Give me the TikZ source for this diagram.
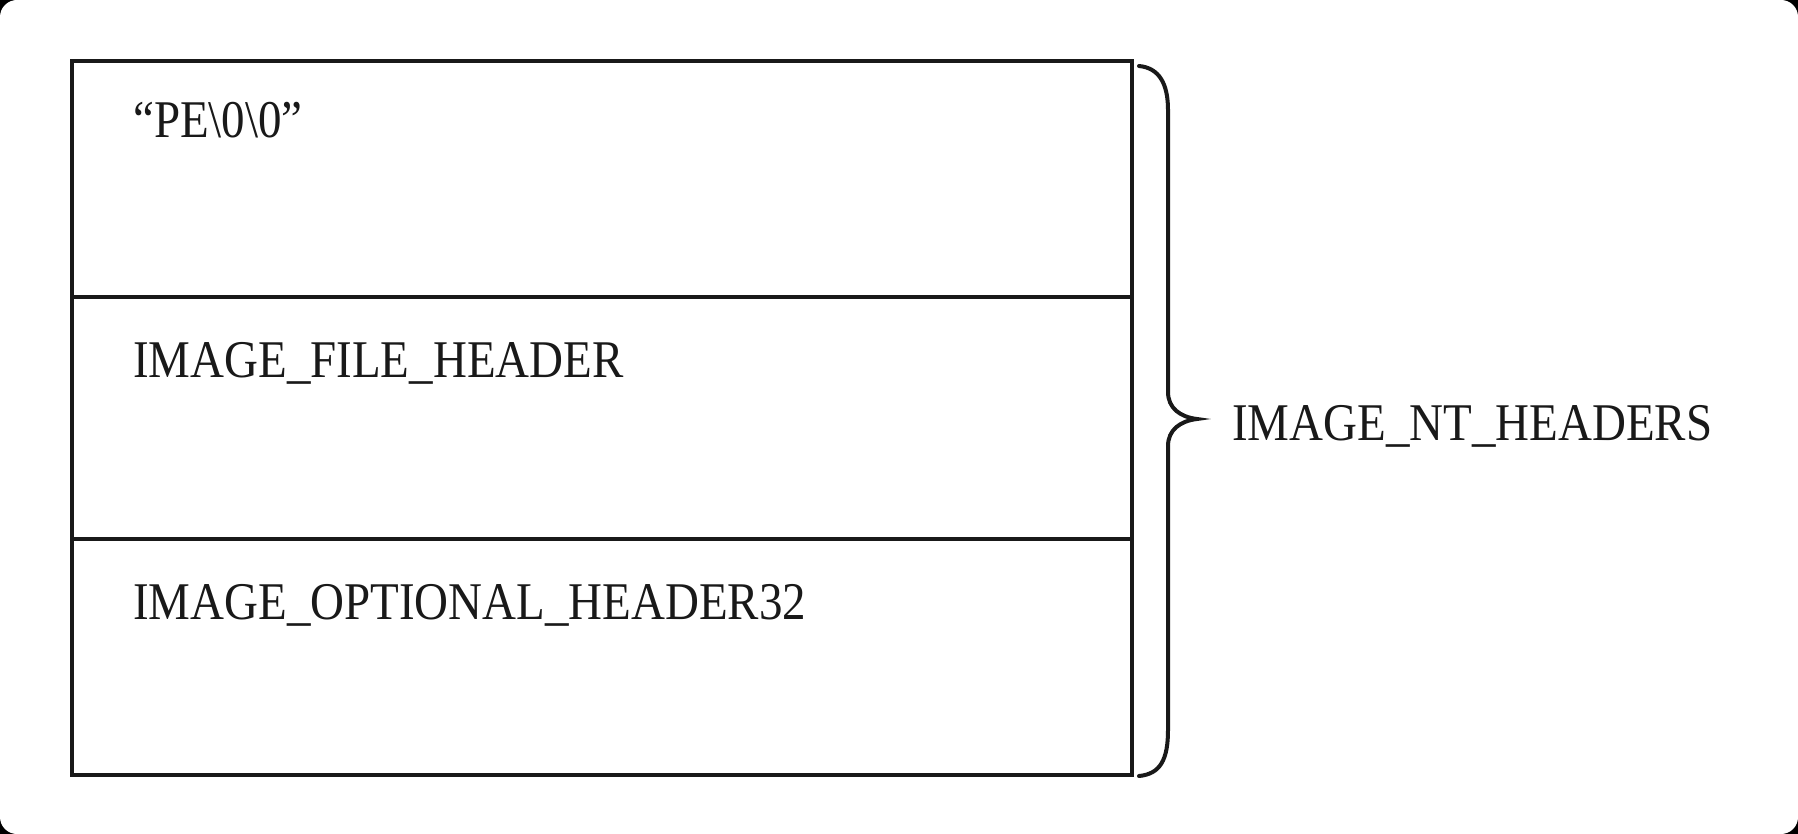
\documentclass[tikz,border=0pt]{standalone}
\usepackage{fontspec}
\setmainfont{Liberation Serif}[FakeStretch=0.886]
\begin{document}
\begin{tikzpicture}[x=1pt,y=-1pt,
  rowbox/.style={draw=black!90, line width=3.8pt, minimum width=1060pt, inner sep=0pt, outer sep=0pt},
  lbl/.style={anchor=base west, inner sep=0pt, font=\fontsize{53}{60}\selectfont, text=black!90},
  bracestyle/.style={draw=black!90, line width=4pt, line cap=round}]
\fill[black] (0,0) rectangle (1798,834);
\fill[white, rounded corners=17pt] (0,0) rectangle (1798,834);
\useasboundingbox (0,0) rectangle (1798,834);
\node[rowbox, minimum height=236pt] (r1) at (602,179) {};
\node[rowbox, minimum height=242pt] (r2) at (602,418) {};
\node[rowbox, minimum height=236pt] (r3) at (602,657) {};
\node[lbl] (t1) at (133,138) {“PE\textbackslash 0\textbackslash 0”};
\node[lbl] (t2) at (133,377) {IMAGE\_FILE\_HEADER};
\node[lbl] (t3) at (133,619) {IMAGE\_OPTIONAL\_HEADER32};
\coordinate (btop) at (1139,66);
\coordinate (btip) at (1197,419);
\coordinate (bbot) at (1139,776);
\draw[bracestyle] (btop) .. controls (1160,68) and (1168,85) .. (1168,110)
  -- (1168,392) .. controls (1168,408) and (1180,417) .. (btip)
  .. controls (1180,421) and (1168,430) .. (1168,446)
  -- (1168,730) .. controls (1168,760) and (1160,774) .. (bbot);
\node[lbl] (nt) at (1232,440) {IMAGE\_NT\_HEADERS};
\end{tikzpicture}
\end{document}
